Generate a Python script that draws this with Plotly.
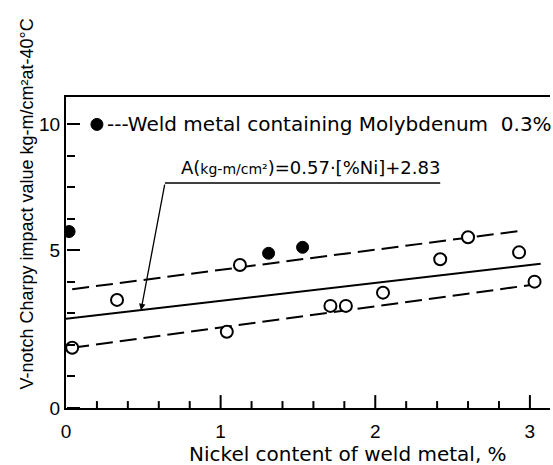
import plotly.graph_objects as go

# ---- data ----
nickel_open = [0.04, 0.33, 1.04, 1.125, 1.71, 1.81, 2.05, 2.42, 2.60, 2.93, 3.03]
charpy_open = [1.91, 3.43, 2.42, 4.54, 3.24, 3.24, 3.66, 4.72, 5.42, 4.94, 4.01]

nickel_mo = [0.02, 1.31, 1.53]
charpy_mo = [5.60, 4.91, 5.10]

reg_slope = 0.57
reg_intercept = 2.83
reg_x = [0.0, 3.07]
reg_y = [reg_slope * v + reg_intercept for v in reg_x]

upper_x = [0.04, 2.95]
upper_y = [3.77, 5.63]
lower_x = [0.04, 3.06]
lower_y = [1.91, 3.94]

y_tickvals = [0, 5, 9]
y_ticktext = ["0", "5", "10"]
y_minor = [1, 2, 3, 4, 6, 7, 8]
x_tickvals = [0, 1, 2, 3]
x_ticktext = ["0", "1", "2", "3"]
x_major_marks = [1, 2, 3]
x_minor = [0.2, 0.4, 0.6, 0.8, 1.2, 1.4, 1.6, 1.8, 2.2, 2.4, 2.6, 2.8]

legend_dot_x = [0.2]
legend_dot_y = [9]

X_RANGE = [0, 3.13]
Y_RANGE = [0, 9.87]
MAJOR_TICK_H = 0.41   # tick heights in y units (~13 px and ~7 px)
MINOR_TICK_H = 0.22

FONT = "DejaVu Sans"
TICKFONT = "Liberation Sans"
BLACK = "black"

fig = go.Figure()

dash = "17px,7px"
fig.add_trace(go.Scatter(x=upper_x, y=upper_y, mode="lines",
                         line=dict(color=BLACK, width=2, dash=dash), hoverinfo="skip"))
fig.add_trace(go.Scatter(x=lower_x, y=lower_y, mode="lines",
                         line=dict(color=BLACK, width=2, dash=dash), hoverinfo="skip"))
fig.add_trace(go.Scatter(x=reg_x, y=reg_y, mode="lines",
                         line=dict(color=BLACK, width=2), hoverinfo="skip"))

fig.add_trace(go.Scatter(x=nickel_open, y=charpy_open, mode="markers",
                         marker=dict(symbol="circle", size=12, color="white",
                                     line=dict(color=BLACK, width=2))))
fig.add_trace(go.Scatter(x=nickel_mo, y=charpy_mo, mode="markers",
                         marker=dict(symbol="circle", size=12, color=BLACK,
                                     line=dict(color=BLACK, width=1))))
fig.add_trace(go.Scatter(x=legend_dot_x, y=legend_dot_y, mode="markers",
                         marker=dict(symbol="circle", size=12, color=BLACK,
                                     line=dict(color=BLACK, width=1))))

# x-axis tick marks pointing up into the plot (drawn as one-sided error bars on the axis)
for xs, h in ((x_major_marks, MAJOR_TICK_H), (x_minor, MINOR_TICK_H)):
    fig.add_trace(go.Scatter(
        x=xs, y=[Y_RANGE[0]] * len(xs), mode="markers", cliponaxis=False,
        marker=dict(size=1, opacity=0), hoverinfo="skip",
        error_y=dict(type="data", symmetric=False, array=[h] * len(xs),
                     arrayminus=[0] * len(xs), width=0, thickness=2, color=BLACK)))

# invisible trace binding the tick-only y overlay axes
for xa, ya in (("x2", "y2"), ("x3", "y3")):
    fig.add_trace(go.Scatter(x=[X_RANGE[0]], y=[Y_RANGE[0]], xaxis=xa, yaxis=ya,
                             mode="markers", marker=dict(opacity=0), hoverinfo="skip"))

# legend-like label
fig.add_annotation(x=0.25, y=9, xref="x", yref="y", xanchor="left", yanchor="middle",
                   text="---Weld metal containing Molybdenum  0.3%", showarrow=False,
                   font=dict(family=FONT, size=20, color=BLACK))

# regression formula with leader line and arrow
fig.add_annotation(x=1.58, y=7.62, xref="x", yref="y", xanchor="center", yanchor="middle",
                   text="A(<span style='font-size:14px'>kg-m/cm²</span>)=0.57·[%Ni]+2.83",
                   showarrow=False, font=dict(family=FONT, size=18, color=BLACK))
fig.add_shape(type="line", xref="x", yref="y", x0=0.64, y0=7.14, x1=2.42, y1=7.14,
              line=dict(color=BLACK, width=1.5))
fig.add_annotation(x=0.485, y=3.1, xref="x", yref="y", ax=0.64, ay=7.14,
                   axref="x", ayref="y", text="", showarrow=True,
                   arrowhead=2, arrowsize=1, arrowwidth=1.3, arrowcolor=BLACK)

# axis titles
fig.add_annotation(x=0.583, y=-0.147, xref="paper", yref="paper",
                   xanchor="center", yanchor="middle",
                   text="Nickel content of weld metal, %", showarrow=False,
                   font=dict(family=FONT, size=20, color=BLACK))
fig.add_annotation(x=-0.08, y=0.655, xref="paper", yref="paper", textangle=-90,
                   xanchor="center", yanchor="middle",
                   text="V-notch Charpy impact value kg-m/cm²at-40°C", showarrow=False,
                   font=dict(family=TICKFONT, size=18, color=BLACK))

tick_common = dict(showticklabels=False, showline=False, showgrid=False, zeroline=False,
                   tickmode="array", ticks="outside", tickwidth=2, tickcolor=BLACK)

fig.update_layout(
    template="none",
    width=553, height=465,
    margin=dict(l=66, r=3, t=97, b=57),
    paper_bgcolor="white", plot_bgcolor="white",
    showlegend=False,
    font=dict(family=TICKFONT, size=19, color=BLACK),
    xaxis=dict(range=X_RANGE, tickmode="array", tickvals=x_tickvals, ticktext=x_ticktext,
               ticks="outside", ticklen=5, tickcolor="rgba(0,0,0,0)",
               showline=True, linecolor=BLACK, linewidth=2, mirror=True,
               showgrid=False, zeroline=False),
    yaxis=dict(range=Y_RANGE, tickmode="array", tickvals=y_tickvals, ticktext=y_ticktext,
               ticks="", ticksuffix="  ",
               showline=True, linecolor=BLACK, linewidth=2,
               showgrid=False, zeroline=False),
    xaxis2=dict(range=X_RANGE, overlaying="x", visible=False),
    xaxis3=dict(range=X_RANGE, overlaying="x", visible=False),
    # tick-only y axes on the left edge, ticks pointing into the plot
    yaxis2=dict(range=Y_RANGE, overlaying="y", side="right", anchor="free", position=0,
                tickvals=y_tickvals, ticklen=13, **tick_common),
    yaxis3=dict(range=Y_RANGE, overlaying="y", side="right", anchor="free", position=0,
                tickvals=y_minor, ticklen=8, **tick_common),
)

fig.write_html("out.html")
